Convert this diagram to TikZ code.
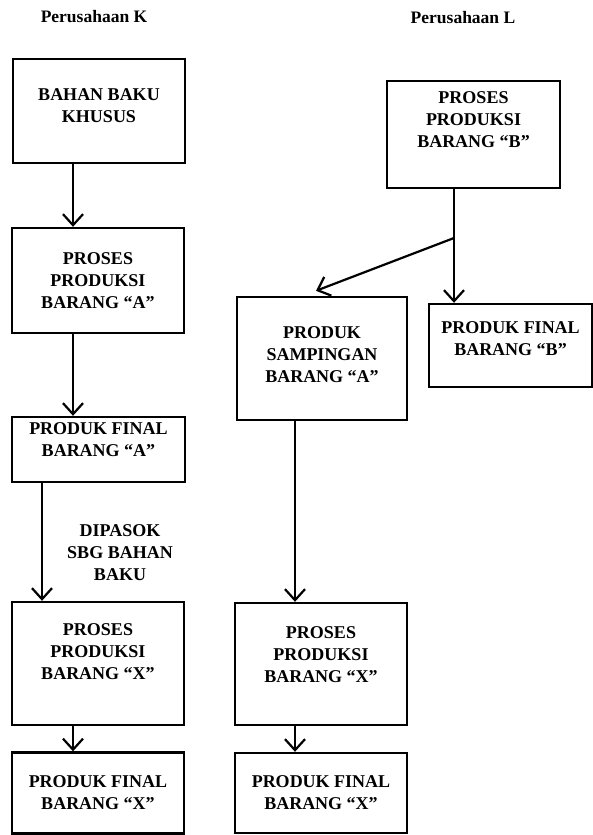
\documentclass[tikz,border=0pt]{standalone}
\usepackage{fontspec}
\setmainfont{Liberation Serif}
\usetikzlibrary{arrows.meta}

\begin{document}
\begin{tikzpicture}[x=1pt, y=-1pt,
  box/.style={draw, line width=2.4pt, align=center, inner sep=0pt,
    font=\bfseries\fontsize{18}{22}\selectfont},
  flow/.style={line width=2.2pt, -{Straight Barb[length=11pt, width=20pt, line width=2.2pt]}},
  title/.style={font=\bfseries\fontsize{17.5}{20}\selectfont}]
  \useasboundingbox (0,0) rectangle (593,835);

  % Headings
  \node[title] (titK) at (94,17) {Perusahaan K};
  \node[title] (titL) at (463,18) {Perusahaan L};

  % Perusahaan K
  \node[box, minimum width=172pt, minimum height=104pt] (bahan) at (99,111) {BAHAN BAKU\\KHUSUS\\[-12pt]};
  \node[box, minimum width=172pt, minimum height=105pt] (prosesA) at (98,280.5) {PROSES\\PRODUKSI\\BARANG ``A''};
  \node[box, minimum width=173pt, minimum height=65pt] (finalA) at (98.5,449.5) {PRODUK FINAL\\BARANG ``A''\\[-3pt]};
  \node[box, minimum width=172pt, minimum height=123pt] (prosesXK) at (98,663.5) {PROSES\\PRODUKSI\\BARANG ``X''\\[1pt]};
  \node[box, minimum width=172pt, minimum height=81pt] (finalXK) at (98,793) {PRODUK FINAL\\BARANG ``X''};
  \node[font=\bfseries\fontsize{18}{22}\selectfont, align=center] (pasok) at (120,553) {DIPASOK\\SBG BAHAN\\BAKU};

  % Perusahaan L
  \node[box, minimum width=173pt, minimum height=107pt] (prosesB) at (473.5,134.5) {PROSES\\PRODUKSI\\BARANG ``B''\\[7pt]};
  \node[box, minimum width=170pt, minimum height=123pt] (samping) at (322,358.5) {PRODUK\\SAMPINGAN\\BARANG ``A''\\[-15pt]};
  \node[box, minimum width=163pt, minimum height=83pt] (finalB) at (510.5,345.5) {PRODUK FINAL\\BARANG ``B''\\[-9pt]};
  \node[box, minimum width=172pt, minimum height=122pt] (prosesXL) at (321,664) {PROSES\\PRODUKSI\\BARANG ``X''\\[-4pt]};
  \node[box, minimum width=172pt, minimum height=80pt] (finalXL) at (321,793) {PRODUK FINAL\\BARANG ``X''};

  % arrow lines
  \coordinate (kx) at (73,0);
  \coordinate (kxx) at (42,0);
  \coordinate (lx) at (454,0);
  \coordinate (lxx) at (295,0);
  \coordinate (split) at (454,238);

  \draw[flow] (bahan.south -| kx) -- (prosesA.north -| kx);
  \draw[flow] (prosesA.south -| kx) -- (finalA.north -| kx);
  \draw[flow] (finalA.south -| kxx) -- (prosesXK.north -| kxx);
  \draw[flow] (prosesXK.south -| kx) -- (finalXK.north -| kx);

  \draw[flow] (prosesB.south -| lx) -- (finalB.north -| lx);
  \draw[flow] (split) -- ([xshift=-6pt, yshift=5pt]samping.north);
  \draw[flow] (samping.south -| lxx) -- (prosesXL.north -| lxx);
  \draw[flow] (prosesXL.south -| lxx) -- (finalXL.north -| lxx);
\end{tikzpicture}
\end{document}
